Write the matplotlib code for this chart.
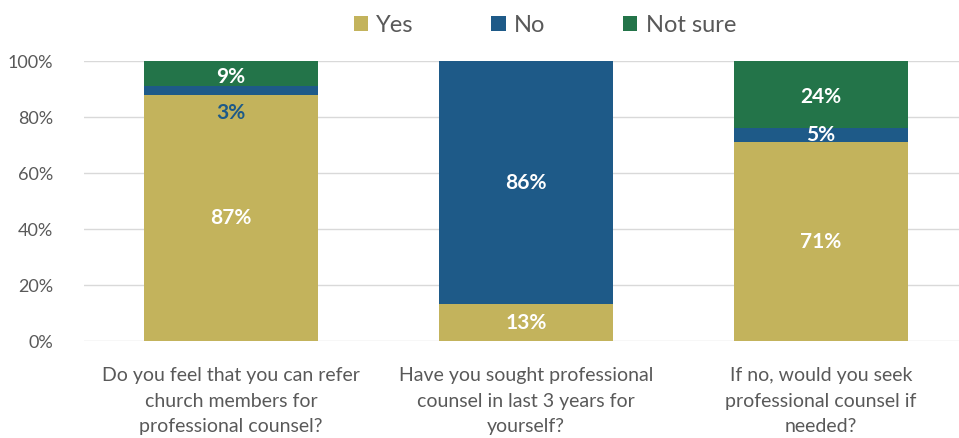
import numpy as np
import matplotlib.pyplot as plt
from matplotlib.ticker import PercentFormatter

plt.rcParams['font.family'] = ['Lato', 'DejaVu Sans']

questions = [
    'Do you feel that you can refer\nchurch members for\nprofessional counsel?',
    'Have you sought professional\ncounsel in last 3 years for\nyourself?',
    'If no, would you seek\nprofessional counsel if\nneeded?',
]
yes = np.array([87, 13, 71])
no = np.array([3, 86, 5])
not_sure = np.array([9, 0, 24])

colors = {'Yes': '#C3B35C', 'No': '#1E5A88', 'Not sure': '#237449'}

# 100% stacked: normalise each column to its total
totals = yes + no + not_sure
yes_h = yes / totals * 100
no_h = no / totals * 100
ns_h = not_sure / totals * 100

fig = plt.figure(figsize=(9.59, 4.38), dpi=100)
ax = fig.add_axes([83.5 / 959, 1 - 341 / 438, 885 / 959, 280 / 438])

x = np.arange(len(questions))
w = 0.587
ax.bar(x, yes_h, w, color=colors['Yes'], label='Yes', zorder=3)
ax.bar(x, no_h, w, bottom=yes_h, color=colors['No'], label='No', zorder=3)
ax.bar(x, ns_h, w, bottom=yes_h + no_h, color=colors['Not sure'], label='Not sure', zorder=3)

lab = dict(ha='center', va='center', fontsize=15, fontweight='bold', zorder=4)
for i in range(len(x)):
    if yes[i]:
        ax.text(x[i], yes_h[i] / 2, f'{yes[i]}%', color='white', **lab)
    if no[i]:
        mid = yes_h[i] + no_h[i] / 2
        if no[i] < 4:
            ax.text(x[i], mid - 8, f'{no[i]}%', color=colors['No'], **lab)
        else:
            ax.text(x[i], mid, f'{no[i]}%', color='white', **lab)
    if not_sure[i]:
        ax.text(x[i], yes_h[i] + no_h[i] + ns_h[i] / 2 - 1, f'{not_sure[i]}%',
                color='white', **lab)

ax.set_xlim(-0.5, 2.5)
ax.set_ylim(0, 100)
ax.set_yticks(np.arange(0, 101, 20))
ax.yaxis.set_major_formatter(PercentFormatter(decimals=0))
ax.set_xticks(x)
ax.set_xticklabels(questions, linespacing=1.6)
ax.tick_params(axis='both', length=0, labelcolor='#595959')
ax.tick_params(axis='y', pad=22, labelsize=13)
ax.tick_params(axis='x', pad=19, labelsize=14)
ax.grid(axis='y', color='#D9D9D9', linewidth=1, zorder=0)
for s in ax.spines.values():
    s.set_visible(False)

fig.legend(loc='upper center', bbox_to_anchor=(0.568, 1.015), ncol=3, frameon=False,
           fontsize=17, labelcolor='#595959', handlelength=0.6, handleheight=0.6,
           handletextpad=0.35, columnspacing=3.3)

fig.savefig('out.png', dpi=100)
